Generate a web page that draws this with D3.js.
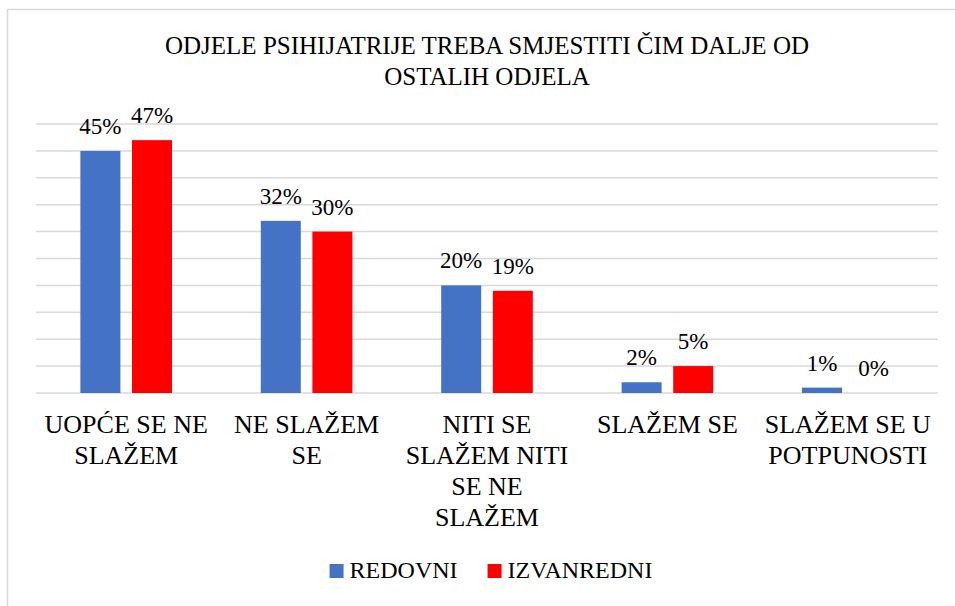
<!DOCTYPE html>
<html>
<head>
<meta charset="utf-8">
<script src="https://cdn.jsdelivr.net/npm/d3@7"></script>
</head>
<body style="margin:0">
<script>
// Categories (as wrapped in the picture)
var categories = ['UOPĆE SE NE SLAŽEM', 'NE SLAŽEM SE', 'NITI SE SLAŽEM NITI SE NE SLAŽEM', 'SLAŽEM SE', 'SLAŽEM SE U POTPUNOSTI'];
var categoryLines = [
    ['UOPĆE SE NE', 'SLAŽEM'],
    ['NE SLAŽEM', 'SE'],
    ['NITI SE', 'SLAŽEM NITI', 'SE NE', 'SLAŽEM'],
    ['SLAŽEM SE'],
    ['SLAŽEM SE U', 'POTPUNOSTI']
];
var seriesNames = ['REDOVNI', 'IZVANREDNI'];
var redovni = [0.45, 0.32, 0.20, 0.02, 0.01];
var izvanredni = [0.47, 0.30, 0.19, 0.05, 0.00];
var colors = ['#4472C4', '#FF0000'];
var title = ['ODJELE PSIHIJATRIJE TREBA SMJESTITI ČIM DALJE OD', 'OSTALIH ODJELA'];

var chartWidth = 955,
    chartHeight = 606,
    serif = 'Liberation Serif';

// Plot area
var plotLeft = 36,
    plotRight = 938,
    plotTop = 124,
    plotBottom = 393;

var svg = d3.select('body')
    .append('svg')
    .attr('width', chartWidth)
    .attr('height', chartHeight)
    .attr('font-family', serif);

// Chart border (only top and left are inside the picture)
svg.append('rect')
    .attr('x', 7.5)
    .attr('y', 9.5)
    .attr('width', 960)
    .attr('height', 620)
    .attr('fill', 'none')
    .attr('stroke', '#d9d9d9')
    .attr('stroke-width', 1.5);

var x0 = d3.scaleBand()
    .domain(categories)
    .range([plotLeft, plotRight]);

var x1 = d3.scaleBand()
    .domain(seriesNames)
    .range([0, x0.bandwidth()])
    .paddingInner(0.225)
    .paddingOuter(0.86);

var y = d3.scaleLinear()
    .domain([0, 0.5])
    .range([plotBottom, plotTop]);

// Gridlines
svg.append('g')
    .selectAll('line')
    .data(y.ticks(10))
    .enter()
    .append('line')
    .attr('x1', plotLeft)
    .attr('x2', plotRight)
    .attr('y1', function (d) { return y(d); })
    .attr('y2', function (d) { return y(d); })
    .attr('stroke', '#d9d9d9')
    .attr('stroke-width', 1.5);

var rows = categories.map(function (c, i) {
    return { cat: c, values: [redovni[i], izvanredni[i]] };
});

var groups = svg.selectAll('.cat')
    .data(rows)
    .enter()
    .append('g')
    .attr('class', 'cat')
    .attr('transform', function (d) { return 'translate(' + x0(d.cat) + ',0)'; });

groups.selectAll('rect')
    .data(function (d) { return d.values.map(function (v, j) { return { s: seriesNames[j], v: v, j: j }; }); })
    .enter()
    .append('rect')
    .attr('x', function (d) { return x1(d.s); })
    .attr('width', x1.bandwidth())
    .attr('y', function (d) { return y(d.v); })
    .attr('height', function (d) { return plotBottom - y(d.v); })
    .attr('fill', function (d) { return colors[d.j]; });

// Value labels
groups.selectAll('.val')
    .data(function (d) { return d.values.map(function (v, j) { return { s: seriesNames[j], v: v }; }); })
    .enter()
    .append('text')
    .attr('class', 'val')
    .attr('x', function (d) { return x1(d.s) + x1.bandwidth() / 2; })
    .attr('y', function (d) { return y(d.v) - 17; })
    .attr('text-anchor', 'middle')
    .attr('font-family', serif)
    .attr('font-size', 23)
    .text(function (d) { return Math.round(d.v * 100) + '%'; });

// Category labels
groups.append('text')
    .attr('text-anchor', 'middle')
    .attr('font-family', serif)
    .attr('font-size', 26)
    .selectAll('tspan')
    .data(function (d, i) { return categoryLines[i]; })
    .enter()
    .append('tspan')
    .attr('x', x0.bandwidth() / 2)
    .attr('y', function (d, i) { return 433 + i * 31; })
    .text(function (d) { return d; });

// Title
svg.append('text')
    .attr('text-anchor', 'middle')
    .attr('font-family', serif)
    .attr('font-size', 25)
    .selectAll('tspan')
    .data(title)
    .enter()
    .append('tspan')
    .attr('x', (plotLeft + plotRight) / 2)
    .attr('y', function (d, i) { return 54 + i * 31; })
    .text(function (d) { return d; });

// Legend
var legend = svg.append('g');
var items = legend.selectAll('g')
    .data(seriesNames)
    .enter()
    .append('g');

items.append('rect')
    .attr('width', 14)
    .attr('height', 14)
    .attr('y', 564)
    .attr('fill', function (d, i) { return colors[i]; });

items.append('text')
    .attr('x', 20)
    .attr('y', 578)
    .attr('font-family', serif)
    .attr('font-size', 24)
    .text(function (d) { return d; });

// Lay legend items side by side and centre them
var xPos = 0;
items.each(function () {
    var w = this.getBBox().width;
    d3.select(this).attr('transform', 'translate(' + xPos + ',0)');
    xPos += w + 30;
});
legend.attr('transform', 'translate(' + ((plotLeft + plotRight) / 2 + 4 - (xPos - 30) / 2) + ',0)');
</script>
</body>
</html>
